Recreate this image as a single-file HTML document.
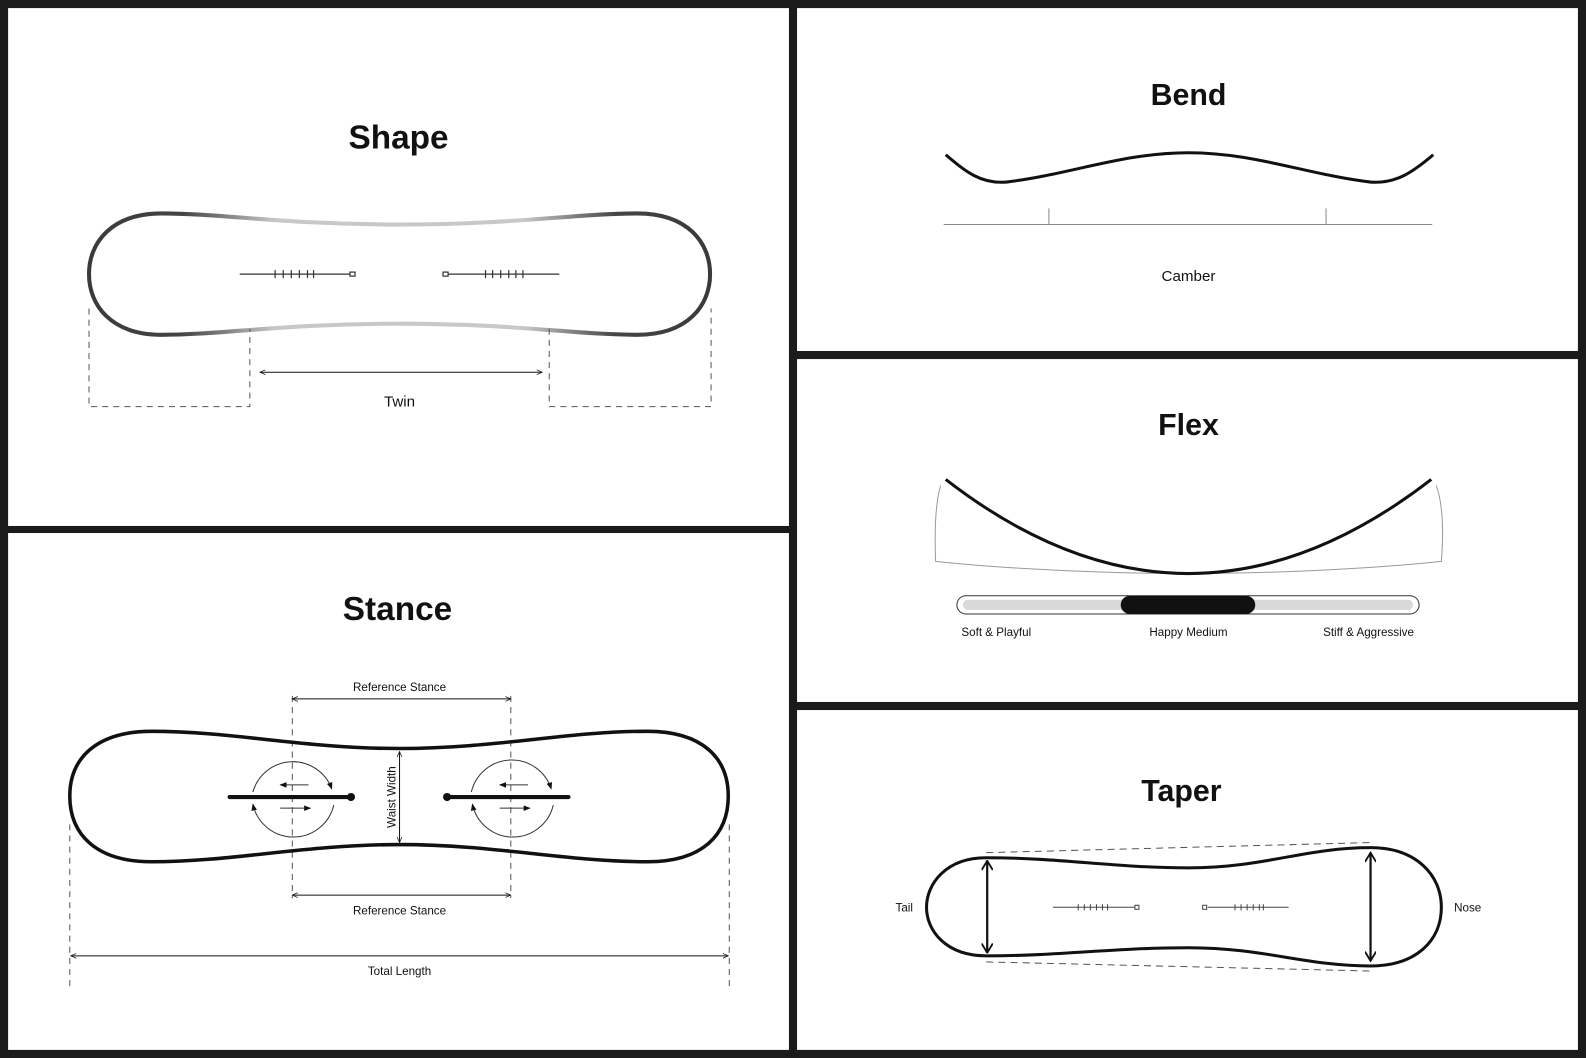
<!DOCTYPE html>
<html><head><meta charset="utf-8"><style>
html,body{margin:0;padding:0;background:#1b1b1b;}
svg{display:block;}
text{font-family:"Liberation Sans",sans-serif;fill:#111;}
</style></head><body>
<svg width="1586" height="1058" viewBox="0 0 1568 1046" preserveAspectRatio="none" xmlns="http://www.w3.org/2000/svg">
<defs>
<linearGradient id="g" x1="88" y1="0" x2="702" y2="0" gradientUnits="userSpaceOnUse">
<stop offset="0" stop-color="#3a3a3a"/><stop offset="0.15" stop-color="#444"/><stop offset="0.3" stop-color="#c8c8c8"/><stop offset="0.7" stop-color="#c8c8c8"/><stop offset="0.85" stop-color="#444"/><stop offset="1" stop-color="#3a3a3a"/>
</linearGradient>
<marker id="a" viewBox="0 0 10 10" refX="9" refY="5" markerWidth="6" markerHeight="6" orient="auto-start-reverse"><path d="M0,1 L9,5 L0,9" fill="none" stroke="#111" stroke-width="1.2"/></marker>
<marker id="t" viewBox="0 0 10 10" refX="9" refY="5" markerWidth="7" markerHeight="7" orient="auto-start-reverse"><path d="M0,1 L10,5 L0,9z" fill="#111"/></marker>
<marker id="v" viewBox="0 0 12 12" refX="11" refY="6" markerWidth="5" markerHeight="5" orient="auto-start-reverse"><path d="M1,0 L11,6 L1,12" fill="none" stroke="#111" stroke-width="2"/></marker>
</defs>
<rect x="0" y="0" width="1568" height="1046" fill="#1b1b1b"/>
<rect x="8" y="8" width="772" height="512" fill="#fff"/>
<rect x="8" y="527" width="772" height="511" fill="#fff"/>
<rect x="788" y="8" width="772" height="339" fill="#fff"/>
<rect x="788" y="355" width="772" height="339" fill="#fff"/>
<rect x="788" y="702" width="772" height="336" fill="#fff"/>

<!-- Shape -->
<text x="394" y="147" font-size="33" font-weight="bold" text-anchor="middle">Shape</text>
<path d="M160,211 C220,211 280,222 395,222 C510,222 570,211 630,211 C680,211 702,240 702,271 C702,302 680,331 630,331 C570,331 510,320 395,320 C280,320 220,331 160,331 C110,331 88,302 88,271 C88,240 110,211 160,211Z" fill="none" stroke="url(#g)" stroke-width="4"/>
<g stroke="#333" stroke-width="1.2" fill="none">
<line x1="237" y1="271" x2="348" y2="271"/><rect x="346" y="269" width="5" height="4" fill="#fff"/>
<path d="M272,267v8M280,267v8M288,267v8M296,267v8M304,267v8M310,267v8"/>
<line x1="443" y1="271" x2="553" y2="271"/><rect x="438" y="269" width="5" height="4" fill="#fff"/>
<path d="M480,267v8M487,267v8M495,267v8M503,267v8M510,267v8M517,267v8"/>
</g>
<g stroke="#555" stroke-width="1" stroke-dasharray="6,5" fill="none">
<path d="M88,305 V402 H247 V325"/><path d="M543,325 V402 H703 V305"/>
</g>
<line x1="257" y1="368" x2="536" y2="368" stroke="#111" stroke-width="1" marker-start="url(#a)" marker-end="url(#a)"/>
<text x="395" y="402" font-size="15" text-anchor="middle">Twin</text>

<!-- Bend -->
<text x="1175" y="104" font-size="30" font-weight="bold" text-anchor="middle">Bend</text>
<path d="M935,153 C955,170 970,182 995,180 C1060,172 1110,151 1175,151 C1240,151 1290,172 1355,180 C1380,182 1397,170 1417,153" fill="none" stroke="#111" stroke-width="3"/>
<g stroke="#888" stroke-width="1"><line x1="933" y1="222" x2="1416" y2="222"/><line x1="1037" y1="206" x2="1037" y2="222"/><line x1="1311" y1="206" x2="1311" y2="222"/></g>
<text x="1175" y="278" font-size="15" text-anchor="middle">Camber</text>

<!-- Flex -->
<text x="1175" y="430" font-size="30" font-weight="bold" text-anchor="middle">Flex</text>
<path d="M930,480 C924,500 924,530 925,555 C1000,563 1100,567 1175,567 C1250,567 1350,563 1425,555 C1427,530 1427,500 1420,480" fill="none" stroke="#999" stroke-width="1"/>
<path d="M935,474 Q1175,660 1415,474" fill="none" stroke="#111" stroke-width="3"/>
<rect x="946" y="589" width="457" height="18" rx="9" fill="#fff" stroke="#333" stroke-width="1"/>
<rect x="952" y="593" width="445" height="10" rx="5" fill="#d8d8d8"/>
<rect x="1108" y="589" width="133" height="18" rx="9" fill="#111"/>
<text x="985" y="629" font-size="11.5" text-anchor="middle">Soft &amp; Playful</text>
<text x="1175" y="629" font-size="11.5" text-anchor="middle">Happy Medium</text>
<text x="1353" y="629" font-size="11.5" text-anchor="middle">Stiff &amp; Aggressive</text>

<!-- Taper -->
<text x="1168" y="792" font-size="30" font-weight="bold" text-anchor="middle">Taper</text>
<g stroke="#555" stroke-width="1" stroke-dasharray="7,5"><line x1="975" y1="843" x2="1355" y2="833"/><line x1="975" y1="951" x2="1355" y2="960"/></g>
<path d="M975,848 C1050,848 1100,858 1175,858 C1250,858 1290,838 1355,838 C1400,838 1425,865 1425,897 C1425,930 1400,955 1355,955 C1290,955 1250,937 1175,937 C1100,937 1050,945 975,945 C935,945 916,920 916,897 C916,874 935,848 975,848Z" fill="none" stroke="#111" stroke-width="3"/>
<line x1="976" y1="851" x2="976" y2="942" stroke="#111" stroke-width="2.2" marker-start="url(#v)" marker-end="url(#v)"/>
<line x1="1355" y1="843" x2="1355" y2="950" stroke="#111" stroke-width="2.2" marker-start="url(#v)" marker-end="url(#v)"/>
<g stroke="#444" stroke-width="1" fill="none">
<line x1="1041" y1="897" x2="1122" y2="897"/><rect x="1122" y="895" width="4" height="4" fill="#fff"/>
<path d="M1066,894v6M1072,894v6M1078,894v6M1084,894v6M1090,894v6M1095,894v6"/>
<line x1="1194" y1="897" x2="1274" y2="897"/><rect x="1189" y="895" width="4" height="4" fill="#fff"/>
<path d="M1221,894v6M1227,894v6M1233,894v6M1239,894v6M1245,894v6M1249,894v6"/>
</g>
<text x="894" y="901" font-size="11.5" text-anchor="middle">Tail</text>
<text x="1451" y="901" font-size="11.5" text-anchor="middle">Nose</text>

<!-- Stance -->
<text x="393" y="613" font-size="33" font-weight="bold" text-anchor="middle">Stance</text>
<g stroke="#555" stroke-width="1" stroke-dasharray="6,5" fill="none">
<line x1="289" y1="688" x2="289" y2="888"/><line x1="505" y1="688" x2="505" y2="888"/>
<line x1="69" y1="815" x2="69" y2="978"/><line x1="721" y1="815" x2="721" y2="978"/>
</g>
<path d="M150,723 C230,723 300,740 395,740 C490,740 560,723 640,723 C695,723 720,750 720,787 C720,825 695,852 640,852 C560,852 490,835 395,835 C300,835 230,852 150,852 C95,852 69,825 69,787 C69,750 95,723 150,723Z" fill="none" stroke="#111" stroke-width="3.5"/>
<g stroke="#111" stroke-width="1" fill="none">
<line x1="289" y1="691" x2="505" y2="691" marker-start="url(#a)" marker-end="url(#a)"/>
<line x1="289" y1="885" x2="505" y2="885" marker-start="url(#a)" marker-end="url(#a)"/>
<line x1="70" y1="945" x2="720" y2="945" marker-start="url(#a)" marker-end="url(#a)"/>
<line x1="395" y1="743" x2="395" y2="833" marker-start="url(#a)" marker-end="url(#a)"/>
</g>
<text x="395" y="683" font-size="11.5" text-anchor="middle">Reference Stance</text>
<text x="395" y="904" font-size="11.5" text-anchor="middle">Reference Stance</text>
<text x="395" y="964" font-size="11.5" text-anchor="middle">Total Length</text>
<text transform="translate(391,788) rotate(-90)" font-size="11.5" text-anchor="middle">Waist Width</text>
<g stroke="#111" stroke-width="4" stroke-linecap="round">
<line x1="227" y1="788" x2="346" y2="788"/><line x1="442" y1="788" x2="562" y2="788"/>
</g>
<circle cx="347" cy="788" r="4" fill="#111"/><circle cx="442" cy="788" r="4" fill="#111"/>
<g stroke="#333" stroke-width="1" fill="none">
<path d="M250,783 A41,41 0 0 1 328,780" marker-end="url(#t)"/>
<path d="M330,796 A41,41 0 0 1 250,795" marker-end="url(#t)"/>
<line x1="305" y1="776" x2="277" y2="776" marker-end="url(#t)"/>
<line x1="277" y1="799" x2="307" y2="799" marker-end="url(#t)"/>
<path d="M466,783 A41,41 0 0 1 545,780" marker-end="url(#t)"/>
<path d="M547,796 A41,41 0 0 1 467,795" marker-end="url(#t)"/>
<line x1="522" y1="776" x2="494" y2="776" marker-end="url(#t)"/>
<line x1="494" y1="799" x2="524" y2="799" marker-end="url(#t)"/>
</g>
</svg>
</body></html>
